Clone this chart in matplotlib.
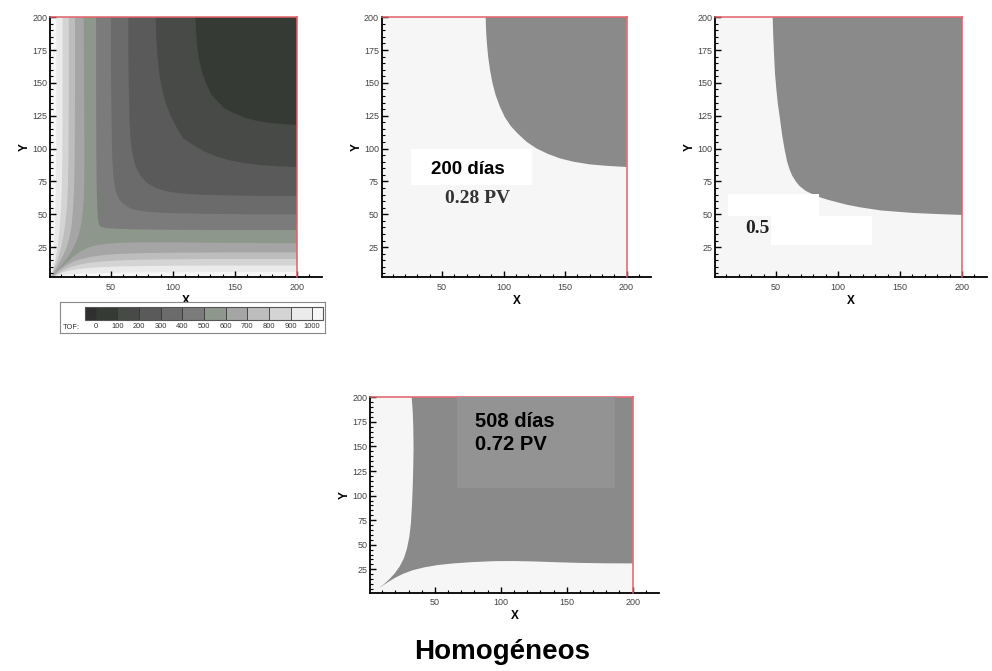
import matplotlib.pyplot as plt
from matplotlib.colors import ListedColormap, BoundaryNorm
from matplotlib.cm import ScalarMappable
from matplotlib.patches import Rectangle
from matplotlib.ticker import FixedLocator

plt.rcParams['font.family'] = ['Liberation Sans', 'DejaVu Sans']

# TOF levels (days) and the grey palette of the contour map
tof_levels = [0, 100, 200, 300, 400, 500, 600, 700, 800, 900, 1000]
tof_colors = ['#2f2f2f', '#363a35', '#484a48', '#5a5a5a', '#6b6b6b', '#7b7b7b',
              '#8d978b', '#a5a5a5', '#bdbdbd', '#d4d4d4', '#ebebeb', '#f7f7f7']

# grid extent (m)
grid_x = [1, 200]
grid_y = [2, 200]

# TOF iso-lines, from the top edge to the right edge
tof100_x = [118, 118.5, 119.5, 121, 123.5, 127, 131, 136, 141, 149, 158, 168, 178, 190, 200]
tof100_y = [200, 190, 178, 168, 158, 149, 141, 136, 131, 127, 123.5, 121, 119.5, 118.5, 118]
tof200_x = [86, 86.5, 87.5, 89, 91, 94, 98, 103, 108, 116, 125, 135, 146, 157, 170, 185, 200]
tof200_y = [200, 185, 170, 157, 146, 135, 125, 116, 108, 103, 98, 94, 91, 89, 87.5, 86.5, 86]
tof300_x = [64, 64, 64.5, 65, 66, 67.5, 70, 74, 79, 86, 95, 105, 120, 140, 170, 200]
tof300_y = [200, 170, 140, 120, 105, 95, 86, 79, 74, 70, 67.5, 66, 65, 64.5, 64, 64]
tof400_x = [50, 50, 50.5, 51, 52, 54, 56.5, 60, 63, 67, 78, 95, 120, 160, 200]
tof400_y = [200, 160, 120, 95, 78, 67, 61.5, 58, 56, 54, 52, 51, 50.5, 50, 50]
tof500_x = [38, 38, 38.2, 38.5, 39, 39.5, 40.5, 42, 46, 55, 70, 100, 150, 200]
tof500_y = [200, 150, 100, 70, 55, 46, 42, 40.5, 39.5, 39, 38.5, 38.2, 38, 38]
tof600_x = [28, 28.3, 28.6, 28.5, 28, 27, 25.5, 23.5, 21, 18, 14.5, 10.5, 6.5, 3,
            6.5, 11, 15, 18.5, 22, 26, 31, 38, 46, 56, 70, 90, 120, 160, 200]
tof600_y = [200, 150, 100, 75, 60, 49, 40, 33, 27, 21.5, 16.5, 11.5, 7, 3,
            6.5, 10.5, 14, 17, 19.5, 22, 24.5, 26.5, 27.5, 28.3, 28.6, 28.6, 28.5, 28.2, 28]
tof700_x = [21, 21, 20.8, 20.3, 19.5, 18.3, 16.5, 14, 11, 8, 5, 2,
            5, 8.5, 13, 18, 24, 32, 42, 55, 75, 110, 150, 200]
tof700_y = [200, 140, 95, 70, 55, 42, 32, 24, 18, 12.5, 7.5, 2,
            4.5, 7.5, 10.5, 13.2, 15.5, 17.3, 18.8, 19.8, 20.5, 20.9, 21, 21]
tof800_x = [16, 16, 15.8, 15.3, 14.5, 13.3, 11.8, 9.8, 7.5, 5, 3, 1.5,
            4, 7, 10, 14, 19, 25, 33, 45, 62, 90, 130, 200]
tof800_y = [200, 140, 95, 72, 56, 44, 34, 25, 17, 10.5, 5.5, 1.5,
            2.6, 4.4, 6.5, 8.5, 10.3, 11.8, 13.2, 14.3, 15.2, 15.7, 16, 16]
tof900_x = [11, 11, 10.8, 10.4, 9.8, 9, 8, 6.8, 5.4, 4, 2.6, 1.2,
            3, 5.5, 8.5, 12, 17, 23, 31, 42, 58, 85, 130, 200]
tof900_y = [200, 140, 95, 72, 56, 44, 33, 24, 16, 10, 5.5, 1.2,
            2.3, 3.5, 4.8, 6, 7.2, 8.2, 9.1, 9.8, 10.4, 10.8, 11, 11]
tof1000_x = [6, 6, 5.8, 5.5, 5, 4.4, 3.7, 3, 2.2, 1.2, 3, 6, 11, 18, 28, 42, 62, 95, 140, 200]
tof1000_y = [200, 140, 95, 68, 48, 33, 22, 13, 6.5, 1.2, 2, 2.8, 3.6, 4.3, 4.9, 5.3, 5.6, 5.8, 6, 6]

# swept zone (water front) at three times
front200_x = [85.5, 85.8, 86.5, 87.5, 89, 91, 93.5, 97, 101, 106, 112, 119, 127, 136,
              146, 157, 170, 185, 200]
front200_y = [200, 190, 180, 170, 160, 150, 141, 132, 124, 117, 111, 105, 100, 96,
              92.5, 90, 88, 86.8, 86]
front_mid_x = [47.3, 47.8, 48.5, 49.2, 50.3, 51.5, 53, 55, 57, 59, 61, 63, 66, 69, 74, 80,
               86, 92, 100, 107, 118, 134, 147, 161, 180, 200]
front_mid_y = [200, 185, 170, 157, 145, 134, 124, 110, 99, 90, 84, 79.5, 75, 71.5, 67.8, 65,
               62.8, 61, 59, 57.3, 55.3, 53, 52, 51, 50.2, 49.5]
front508_x = [32.4, 33.2, 33.6, 33.8, 33.6, 33.2, 32.6, 31.8, 30.6, 28.8, 26.4, 23.3, 19.6,
              15.5, 11, 7, 10, 15, 20, 26, 33, 42, 52, 64, 78, 95, 110, 125, 140, 160,
              180, 200]
front508_y = [200, 185, 170, 150, 130, 110, 90, 72, 58, 46, 36, 28, 21,
              15, 9.5, 5.5, 8, 12.5, 16.5, 20.5, 24, 27, 29.3, 31, 32.3, 33.3, 33.4, 33, 32.3,
              31.5, 31.1, 31]

swept_color = '#8a8a8a'
field_color = '#f6f6f6'
red = '#e06068'


def setup_axes(ax, ylo):
    ax.set_xlim(1, 220)
    ax.set_ylim(ylo, 200)
    ax.set_facecolor('none')
    ax.spines['top'].set_visible(False)
    ax.spines['right'].set_visible(False)
    ax.spines['left'].set_linewidth(1.3)
    ax.spines['bottom'].set_linewidth(1.3)
    ax.xaxis.set_major_locator(FixedLocator([50, 100, 150, 200]))
    ax.xaxis.set_minor_locator(FixedLocator(list(range(10, 220, 10))))
    ax.yaxis.set_major_locator(FixedLocator([25, 50, 75, 100, 125, 150, 175, 200]))
    ax.yaxis.set_minor_locator(FixedLocator(list(range(5, 200, 5))))
    ax.tick_params(which='both', direction='in', labelsize=6.5, labelcolor='#444')
    ax.tick_params(which='major', length=4.5, width=1.0)
    ax.tick_params(which='minor', length=2.5, width=0.8)
    ax.tick_params(axis='x', pad=4)
    ax.tick_params(axis='y', pad=2)
    ax.set_xlabel('X', fontweight='bold', fontsize=8.5, labelpad=2)
    ax.set_ylabel('Y', fontweight='bold', fontsize=8.5, labelpad=1)


def draw_field(ax, color, ylo):
    ax.add_patch(Rectangle((grid_x[0], ylo), grid_x[1] - grid_x[0],
                           grid_y[1] - ylo, color=color, lw=0, zorder=1))


def draw_edges(ax, ylo):
    ax.plot([grid_x[0], grid_x[1]], [grid_y[1], grid_y[1]], color=red, lw=1.1,
            zorder=3, clip_on=False)
    ax.plot([grid_x[1], grid_x[1]], [ylo, grid_y[1]], color=red, lw=1.1,
            zorder=3, clip_on=False)


fig = plt.figure(figsize=(9.92, 6.71), dpi=100)

# ---- panel 1: TOF map
ax1 = fig.add_axes([0.0506, 0.5866, 0.2738, 0.3878])
setup_axes(ax1, grid_y[0])
draw_field(ax1, tof_colors[-1], grid_y[0])
iso = [(tof1000_x, tof1000_y, 10), (tof900_x, tof900_y, 9), (tof800_x, tof800_y, 8),
       (tof700_x, tof700_y, 7), (tof600_x, tof600_y, 6), (tof500_x, tof500_y, 5),
       (tof400_x, tof400_y, 4), (tof300_x, tof300_y, 3), (tof200_x, tof200_y, 2),
       (tof100_x, tof100_y, 1)]
for xs, ys, k in iso:
    ax1.fill(xs + [200], ys + [200], color=tof_colors[k], lw=0, zorder=1.5)
draw_edges(ax1, grid_y[0])

# legend box with colour bar
box = fig.add_axes([0.0605, 0.5037, 0.2671, 0.0462])
box.set_xticks([])
box.set_yticks([])
for s in box.spines.values():
    s.set_color('#888888')
    s.set_linewidth(0.8)
box.text(0.012, 0.17, 'TOF:', fontsize=5.4, color='#333', transform=box.transAxes,
         va='center', ha='left')

cmap = ListedColormap(tof_colors[1:-1])
cmap.set_under(tof_colors[0])
cmap.set_over(tof_colors[-1])
norm = BoundaryNorm(tof_levels, cmap.N)
sm = ScalarMappable(norm=norm, cmap=cmap)
cax = fig.add_axes([0.0857, 0.5231, 0.2399, 0.0194])
cb = fig.colorbar(sm, cax=cax, orientation='horizontal', extend='both',
                  extendrect=True, extendfrac=0.05, drawedges=True, ticks=tof_levels)
cb.outline.set_edgecolor('#555')
cb.outline.set_linewidth(0.8)
cb.dividers.set_color('#333')
cb.dividers.set_linewidth(0.6)
cax.tick_params(length=0, labelsize=5.4, labelcolor='#333', pad=2.5)

# ---- panel 2: 200 days
ax2 = fig.add_axes([0.3848, 0.5866, 0.2716, 0.3878])
setup_axes(ax2, grid_y[0])
draw_field(ax2, field_color, grid_y[0])
ax2.fill(front200_x + [200], front200_y + [200], color=swept_color, lw=0, zorder=1.5)
draw_edges(ax2, grid_y[0])
ax2.add_patch(Rectangle((24.8, 72.3), 98.4, 27.4, color='white', lw=0, zorder=4))
ax2.text(71, 84, '200 días', fontsize=13.5, fontweight='bold', ha='center',
         va='center', zorder=5)
ax2.text(78.5, 62.4, '0.28 PV', fontsize=14, fontweight='bold', ha='center',
         va='center', color='#333', family=['Liberation Serif', 'DejaVu Serif'], zorder=5)

# ---- panel 3: intermediate time
ax3 = fig.add_axes([0.7210, 0.5866, 0.2738, 0.3878])
setup_axes(ax3, grid_y[0])
draw_field(ax3, field_color, grid_y[0])
ax3.fill(front_mid_x + [200], front_mid_y + [200], color=swept_color, lw=0, zorder=1.5)
draw_edges(ax3, grid_y[0])
ax3.add_patch(Rectangle((11.3, 48.7), 73.4, 16.7, color='white', lw=0, zorder=4))
ax3.text(25, 39.2, '0.5', fontsize=14, fontweight='bold', ha='left', va='center',
         color='#222', family=['Liberation Serif', 'DejaVu Serif'], zorder=5)
ax3.add_patch(Rectangle((46, 26.6), 81.4, 22.1, color='white', lw=0, zorder=6))

# ---- panel 4: 508 days
ax4 = fig.add_axes([0.3733, 0.1164, 0.2910, 0.2915])
setup_axes(ax4, 1)
draw_field(ax4, field_color, 1)
ax4.fill(front508_x + [200], front508_y + [200], color=swept_color, lw=0, zorder=1.5)
draw_edges(ax4, 1)
ax4.add_patch(Rectangle((66.5, 107.4), 120.1, 93.2, color='#939393', lw=0,
                        zorder=4, clip_on=False))
ax4.text(80.3, 175.4, '508 días', fontsize=14.5, fontweight='bold', ha='left',
         va='center', zorder=5)
ax4.text(80.3, 151.5, '0.72 PV', fontsize=14.5, fontweight='bold', ha='left',
         va='center', zorder=5)

fig.text(0.5057, 0.0174, 'Homogéneos', fontsize=20, fontweight='bold',
         ha='center', va='baseline')

fig.savefig('out.png', dpi=100)
